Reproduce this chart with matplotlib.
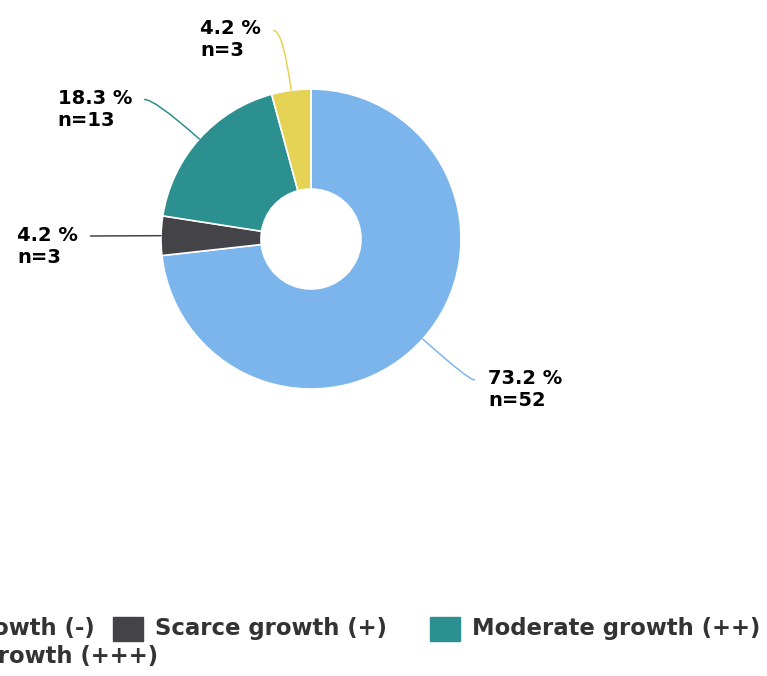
import numpy as np
import matplotlib.pyplot as plt
from matplotlib.patches import Rectangle

# data
categories = ['No growth (-)', 'Scarce growth (+)', 'Moderate growth (++)', 'Abundant growth (+++)']
counts = [52, 3, 13, 3]
colors = ['#7cb5ec', '#434348', '#2b908f', '#e4d354']

W, H = 767, 676
fig = plt.figure(figsize=(W / 100, H / 100), dpi=100)


def fx(px):
    return px / W


def fy(py):
    return 1 - py / H


# donut: centre (311, 239) px, radius 150 px
R = 150
ax = fig.add_axes([fx(311 - R), fy(239 + R), 2 * R / W, 2 * R / H])
wedges, _ = ax.pie(counts, colors=colors, startangle=90, counterclock=False,
                   wedgeprops=dict(width=2 / 3, edgecolor='white', linewidth=1.2))
ax.set_xlim(-1, 1)
ax.set_ylim(-1, 1)
ax.set_aspect('equal')
ax.axis('off')

# label placement (data units, 1 = 150 px): text left/centre, connector start
label_pos = [(1.18, -1.0), (-1.96, -0.05), (-1.69, 0.86), (-0.74, 1.33)]
conn_start = [(1.09, -0.94), (-1.47, 0.02), (-1.11, 0.93), (-0.25, 1.39)]

total = sum(counts)
for w, c, col, tp, cs in zip(wedges, counts, colors, label_pos, conn_start):
    mid = np.deg2rad((w.theta1 + w.theta2) / 2)
    edge = (np.cos(mid), np.sin(mid))
    if abs(np.sin(mid)) < 0.1:
        style = 'arc3,rad=0'
    else:
        style = 'angle3,angleA=0,angleB=%.1f' % np.rad2deg(mid)
    ax.annotate('', xy=edge, xytext=cs, annotation_clip=False,
                arrowprops=dict(arrowstyle='-', color=col, lw=1.1,
                                shrinkA=0, shrinkB=0, connectionstyle=style))
    ax.text(tp[0], tp[1], '%.1f %%\nn=%d' % (c / total * 100, c),
            ha='left', va='center', fontsize=14, fontweight='bold',
            color='black', clip_on=False)

# legend, laid out by hand like a flowing legend
renderer = fig.canvas.get_renderer()
lg_font = dict(fontsize=16.4, fontweight='bold', color='#333333', va='center')
box_w, box_h, gap_txt, gap_item = 30, 24, 12, 43


def legend_item(x_marker, y_center, label, color):
    fig.patches.append(Rectangle((fx(x_marker), fy(y_center + box_h / 2)),
                                 box_w / W, box_h / H, color=color,
                                 transform=fig.transFigure, figure=fig))
    t = fig.text(fx(x_marker + box_w + gap_txt), fy(y_center), label, **lg_font)
    return t.get_window_extent(renderer).x1


def text_width(label):
    t = fig.text(0, 0, label, **lg_font)
    wpx = t.get_window_extent(renderer).width
    t.remove()
    return wpx


# row 1: first item ends at x=95 px
x = 95 - text_width(categories[0]) - gap_txt - box_w
legend_item(x, 629, categories[0], colors[0])
x = 113
end = legend_item(x, 629, categories[1], colors[1])
legend_item(end + gap_item, 629, categories[2], colors[2])

# row 2: last item ends at x=158 px
x = 158 - text_width(categories[3]) - gap_txt - box_w
legend_item(x, 657, categories[3], colors[3])

fig.savefig('out.png', dpi=100, facecolor='white')
